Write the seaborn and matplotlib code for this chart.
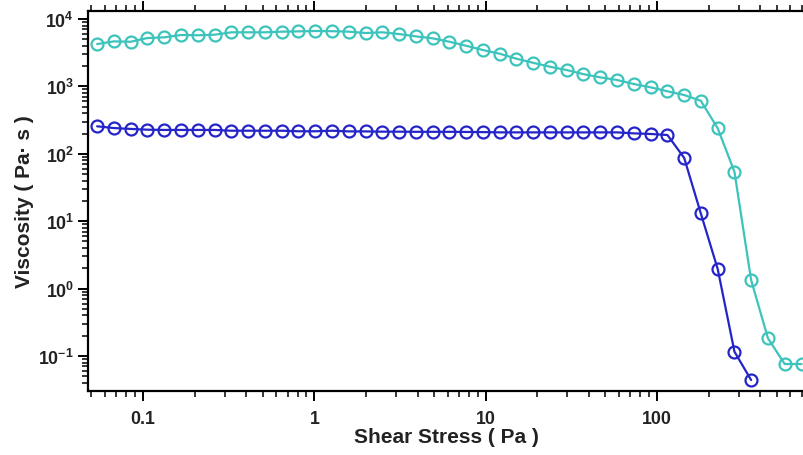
import matplotlib
matplotlib.use("Agg")
import matplotlib.pyplot as plt
import matplotlib.ticker as mticker
import seaborn as sns
import pandas as pd

# ---- data ----
stress = [0.054, 0.0677, 0.0848, 0.106, 0.133, 0.167, 0.209, 0.262, 0.328, 0.411,
          0.515, 0.645, 0.808, 1.01, 1.27, 1.59, 1.99, 2.49, 3.12, 3.91,
          4.9, 6.14, 7.69, 9.63, 12.1, 15.1, 18.9, 23.7, 29.7, 37.2,
          46.6, 58.4, 73.2, 91.7, 115, 144, 180, 226, 283, 354,
          444, 556, 697]

visc_cyan = [4250, 4660, 4600, 5220, 5350, 5790, 5740, 5850, 6350, 6350,
             6350, 6490, 6560, 6640, 6600, 6490, 6200, 6350, 5990, 5530,
             5170, 4600, 4010, 3470, 3050, 2580, 2240, 1960, 1750, 1520,
             1365, 1245, 1085, 970, 846, 745, 613, 239, 54.2, 1.34,
             0.183, 0.076, 0.076]

visc_blue = [256, 241, 234, 228, 226, 226, 226, 226, 220, 220,
             220, 220, 216, 216, 220, 215, 215, 213, 213, 212,
             212, 212, 211, 210, 208, 208, 208, 208, 208, 208,
             208, 208, 201, 197, 190, 87, 13.1, 1.95, 0.116, 0.044]

x_ticks = [0.1, 1, 10, 100]
x_tick_labels = ["0.1", "1", "10", "100"]

CYAN = "#3CC4BC"
BLUE = "#2424C8"
TEXT = "#222222"

sns.set_style("ticks")
plt.rcParams["font.family"] = ["Liberation Sans", "DejaVu Sans"]
plt.rcParams["font.weight"] = "bold"
plt.rcParams["mathtext.fontset"] = "custom"
plt.rcParams["mathtext.rm"] = "Liberation Sans:bold"
plt.rcParams["mathtext.it"] = "Liberation Sans:bold"
plt.rcParams["mathtext.bf"] = "Liberation Sans:bold"
plt.rcParams["mathtext.sf"] = "Liberation Sans:bold"

fig = plt.figure(figsize=(8.04, 4.56), dpi=100)
ax = fig.add_axes([88 / 804, 1 - 391.7 / 456, 1 - 88 / 804, (391.7 - 12) / 456])

df_c = pd.DataFrame({"stress": stress, "visc": visc_cyan})
df_b = pd.DataFrame({"stress": stress[:len(visc_blue)], "visc": visc_blue})

common = dict(marker="o", markerfacecolor="none", markersize=8.6,
              markeredgewidth=1.6, linewidth=1.6, estimator=None, sort=False)
sns.lineplot(data=df_c, x="stress", y="visc", ax=ax, color=CYAN,
             markeredgecolor=CYAN, clip_on=False, **common)
sns.lineplot(data=df_b, x="stress", y="visc", ax=ax, color=BLUE,
             markeredgecolor=BLUE, **common)

ax.set_xscale("log")
ax.set_yscale("log")
ax.set_xlim(10 ** (-1 - 55 / 171.4), 10 ** (2 + 147 / 171.4))
ax.set_ylim(10 ** (-1.515), 10 ** 4.119)

ax.xaxis.set_major_locator(mticker.FixedLocator(x_ticks))
ax.xaxis.set_major_formatter(mticker.FixedFormatter(x_tick_labels))
ax.xaxis.set_minor_locator(mticker.LogLocator(base=10, subs=range(2, 10), numticks=20))
ax.yaxis.set_major_locator(mticker.LogLocator(base=10, numticks=20))
ax.yaxis.set_minor_locator(mticker.LogLocator(base=10, subs=range(2, 10), numticks=20))
ax.xaxis.set_minor_formatter(mticker.NullFormatter())
ax.yaxis.set_minor_formatter(mticker.NullFormatter())

for s in ["left", "bottom", "top"]:
    ax.spines[s].set_linewidth(1.6)
    ax.spines[s].set_color("black")
ax.spines["right"].set_visible(False)

ax.tick_params(which="both", direction="out", top=True, labeltop=False,
               right=False, color="black", labelsize=12.8, labelcolor=TEXT)
ax.tick_params(which="major", length=7, width=1.4)
ax.tick_params(which="minor", length=4, width=1.1)
ax.tick_params(axis="x", which="major", pad=7)
ax.tick_params(axis="y", which="major", pad=3)

ax.set_xlabel("Shear Stress ( Pa )", fontsize=15, fontweight="bold",
              labelpad=0, color=TEXT)
ax.set_ylabel("Viscosity ( Pa· s )", fontsize=15, fontweight="bold",
              labelpad=3, color=TEXT)
ax.grid(False)

fig.savefig("out.png", dpi=100)
